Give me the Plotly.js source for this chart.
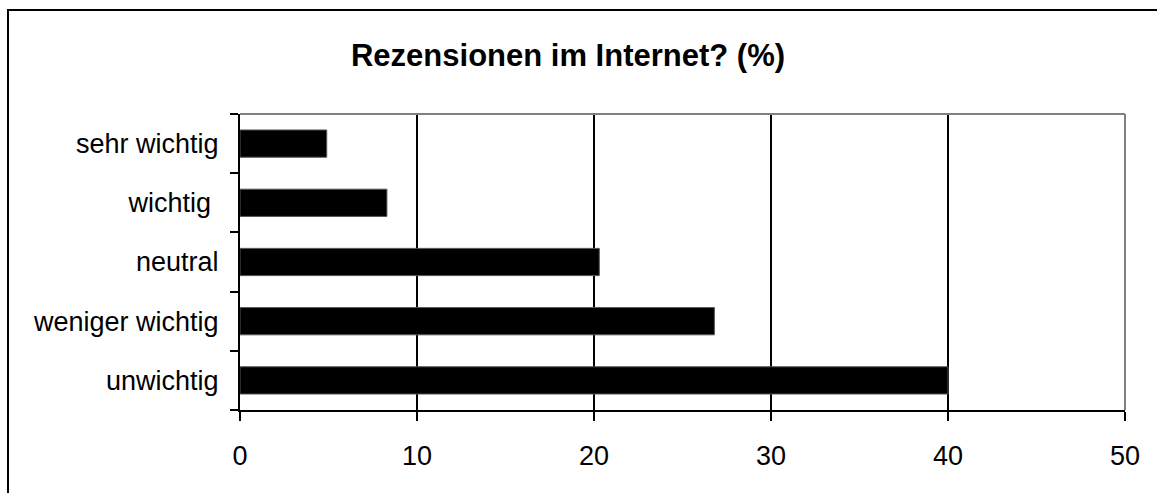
<!DOCTYPE html>
<html>
<head>
<meta charset="utf-8">
<script src="https://cdn.plot.ly/plotly-3.0.1.min.js"></script>
<style>
  html, body { margin: 0; padding: 0; background: #fff; }
  #wrap { position: relative; width: 1157px; height: 493px; overflow: hidden; }
  #chart { width: 1157px; height: 493px; }
  #frame { position: absolute; left: 7px; top: 9px; width: 1170px; height: 520px;
           border: 2px solid #000; pointer-events: none; box-sizing: border-box; }
</style>
</head>
<body>
<div id="wrap">
  <div id="chart"></div>
  <div id="frame"></div>
</div>
<script>
const categories = ["sehr wichtig", "wichtig ", "neutral", "weniger wichtig", "unwichtig"];
const values = [4.9, 8.3, 20.3, 26.8, 40.0];
const xTickValues = [0, 10, 20, 30, 40, 50];
const chartTitle = "Rezensionen im Internet? (%)";

const font = "Liberation Sans, Arial, sans-serif";

const trace = {
  type: "bar",
  orientation: "h",
  y: categories,
  x: values,
  width: 0.46,
  marker: { color: "#000000", line: { color: "#555555", width: 1 } },
  hoverinfo: "skip"
};

const layout = {
  width: 1157,
  height: 493,
  margin: { l: 240, r: 32, t: 114, b: 83 },
  paper_bgcolor: "#ffffff",
  plot_bgcolor: "#ffffff",
  showlegend: false,
  title: {
    text: "<b>" + chartTitle + "</b>",
    font: { family: font, size: 31, color: "#000" },
    x: 568 / 1157, xref: "container", xanchor: "center",
    y: 1 - 55 / 493, yref: "container", yanchor: "middle"
  },
  xaxis: {
    range: [0, 50],
    tickvals: xTickValues,
    ticktext: xTickValues.map(String),
    showgrid: true,
    gridcolor: "#000000",
    gridwidth: 1.5,
    zeroline: false,
    showline: true,
    linecolor: "#000000",
    linewidth: 2,
    ticks: "outside",
    ticklen: 9,
    tickwidth: 2,
    tickcolor: "#000000",
    ticklabelstandoff: 12,
    tickfont: { family: font, size: 27, color: "#000" },
    fixedrange: true
  },
  yaxis: {
    type: "category",
    categoryorder: "array",
    categoryarray: categories.slice().reverse(),
    tickson: "boundaries",
    showgrid: false,
    zeroline: false,
    showline: true,
    linecolor: "#000000",
    linewidth: 2,
    ticks: "outside",
    ticklen: 8,
    tickwidth: 2,
    tickcolor: "#000000",
    ticklabelstandoff: 14,
    tickfont: { family: font, size: 27, color: "#000" },
    fixedrange: true
  },
  shapes: [
    { type: "line", xref: "paper", yref: "paper", x0: 0, x1: 1, y0: 1, y1: 1,
      line: { color: "#808080", width: 2 }, layer: "above" },
    { type: "line", xref: "paper", yref: "paper", x0: 1, x1: 1, y0: 0, y1: 1,
      line: { color: "#808080", width: 2 }, layer: "above" }
  ]
};

Plotly.newPlot("chart", [trace], layout, { displayModeBar: false, staticPlot: true });
</script>
</body>
</html>
